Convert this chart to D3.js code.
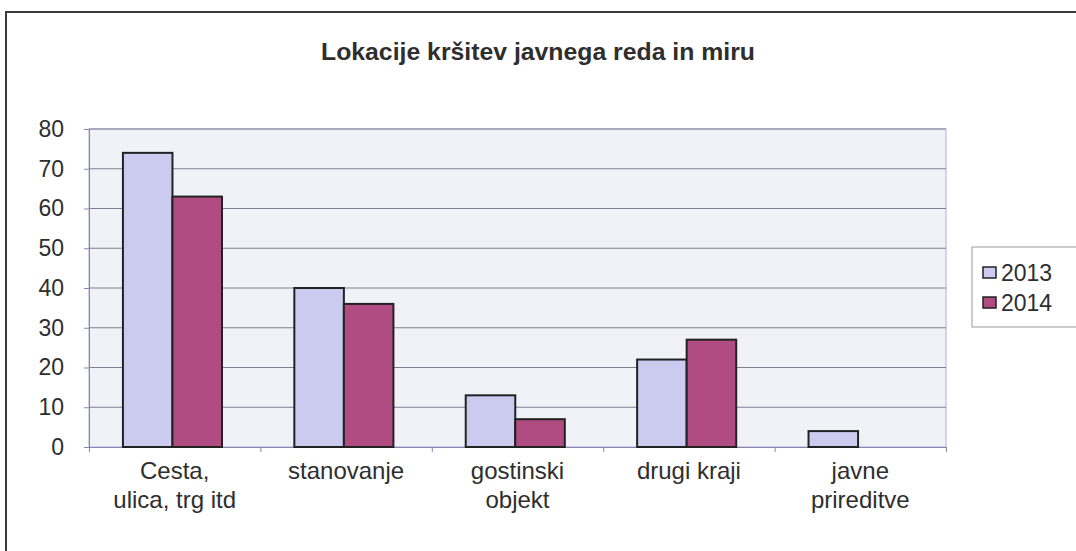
<!DOCTYPE html>
<html><head><meta charset="utf-8">
<script src="https://cdn.jsdelivr.net/npm/d3@7"></script>
<style>
html,body{margin:0;padding:0;background:#fff;}
svg text{font-family:Arial,"Liberation Sans",sans-serif;fill:#2e2e2e;}
</style></head>
<body><svg id="c" width="1076" height="551"></svg>
<script>
const title = "Lokacije kršitev javnega reda in miru";
const categories = [["Cesta,","ulica, trg itd"],["stanovanje"],["gostinski","objekt"],["drugi kraji"],["javne","prireditve"]];
const seriesNames = ["2013","2014"];
const values2013 = [74,40,13,22,4];
const values2014 = [63,36,7,27,0];
const yTicks = [0,10,20,30,40,50,60,70,80];
const colors = ["#cbcbef","#b04c82"];

const svg = d3.select("#c");
svg.append("rect").attr("x",6).attr("y",12).attr("width",1100).attr("height",600)
  .attr("fill","#fff").attr("stroke","#3a3a3a").attr("stroke-width",2);

svg.append("text").attr("x",538).attr("y",60).attr("text-anchor","middle")
  .attr("font-size",23).attr("font-weight","bold").attr("textLength",434)
  .attr("lengthAdjust","spacingAndGlyphs").text(title);

const L=89,R=946,T=129,B=447;
const x0 = d3.scaleBand().domain(d3.range(categories.length)).range([L,R]).padding(0);
const bw = x0.bandwidth();
const x1 = d3.scaleBand().domain(seriesNames).range([bw*0.198,bw*0.776]).padding(0);
const y = d3.scaleLinear().domain([0,80]).range([B,T]);

svg.append("rect").attr("x",L).attr("y",T).attr("width",R-L).attr("height",B-T)
  .attr("fill","#f1f1f8").attr("stroke","#b4acd4").attr("stroke-width",1);

svg.append("g").selectAll("line").data(yTicks.filter(d=>d>0)).join("line")
  .attr("x1",L).attr("x2",R).attr("y1",d=>y(d)).attr("y2",d=>y(d))
  .attr("stroke","#7f7f94").attr("stroke-width",1);

const yAxis = d3.axisLeft(y).tickValues(yTicks).tickSize(5).tickPadding(20);
const gy = svg.append("g").attr("transform",`translate(${L},0)`).call(yAxis);
gy.select(".domain").attr("stroke","#8a84b0");
gy.selectAll(".tick line").attr("stroke","#8a84b0");
gy.selectAll(".tick text").attr("font-size",23).attr("fill","#2e2e2e").attr("font-family","Arial, 'Liberation Sans', sans-serif");

const xAxis = d3.axisBottom(d3.scaleLinear().domain([0,categories.length]).range([L,R]))
  .tickValues(d3.range(categories.length+1)).tickSize(5).tickFormat("");
const gx = svg.append("g").attr("transform",`translate(0,${B})`).call(xAxis);
gx.select(".domain").attr("stroke","#8a84b0");
gx.selectAll(".tick line").attr("stroke","#8a84b0");

const data = [values2013, values2014];
seriesNames.forEach((s,si)=>{
  svg.append("g").selectAll("rect").data(data[si]).join("rect")
    .filter(d=>d>0)
    .attr("x",(d,i)=>x0(i)+x1(s)).attr("width",x1.bandwidth())
    .attr("y",d=>y(d)).attr("height",d=>B-y(d))
    .attr("fill",colors[si]).attr("stroke","#222").attr("stroke-width",2);
});

const cl = svg.append("g");
categories.forEach((lines,i)=>{
  const t = cl.append("text").attr("x",x0(i)+bw/2).attr("y",479)
    .attr("text-anchor","middle").attr("font-size",24);
  lines.forEach((ln,j)=>t.append("tspan").attr("x",x0(i)+bw/2).attr("dy",j?29:0).text(ln));
});

svg.append("rect").attr("x",972).attr("y",247).attr("width",130).attr("height",80)
  .attr("fill","#fff").attr("stroke","#999").attr("stroke-width",1);
seriesNames.forEach((s,i)=>{
  const cy = 273 + i*30;
  svg.append("rect").attr("x",983).attr("y",cy-6).attr("width",13).attr("height",11)
    .attr("fill",colors[i]).attr("stroke","#222").attr("stroke-width",1.5);
  svg.append("text").attr("x",1001).attr("y",cy+8).attr("font-size",23).text(s);
});
</script></body></html>
